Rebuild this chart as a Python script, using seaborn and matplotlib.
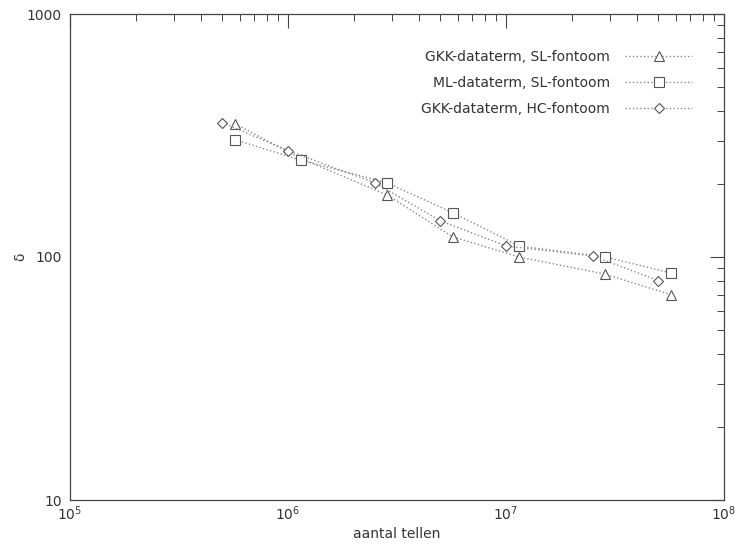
import matplotlib
matplotlib.use("Agg")
import matplotlib.pyplot as plt
import matplotlib.ticker as mticker
import seaborn as sns
import pandas as pd
import numpy as np

# ---- data ----
labels = ["GKK-dataterm, SL-fontoom", "ML-dataterm, SL-fontoom", "GKK-dataterm, HC-fontoom"]
x_sl = [5.7e5, 1.15e6, 2.85e6, 5.7e6, 1.15e7, 2.85e7, 5.7e7]
x_hc = [5.0e5, 1.0e6, 2.5e6, 5.0e6, 1.0e7, 2.5e7, 5.0e7]
y_gkk_sl = [354, 254, 180, 121, 100, 85, 70]
y_ml_sl = [304, 250, 202, 152, 111, 100, 86]
y_gkk_hc = [357, 274, 202, 141, 111, 101, 80]
markers = ["^", "s", "D"]

sns.set_style("white")
plt.rcParams['font.family'] = ['DejaVu Sans']

fig = plt.figure(figsize=(7.36, 5.44), dpi=100)
ax = fig.add_axes([70/736, 1-500/544, (724-70)/736, (500-14)/544])

series = [(x_sl, y_gkk_sl), (x_sl, y_ml_sl), (x_hc, y_gkk_hc)]
for (xs, ys), lab, mk in zip(series, labels, markers):
    df = pd.DataFrame({"x": xs, "y": ys})
    sns.lineplot(data=df, x="x", y="y", ax=ax, label=lab, color="#8a8a8a",
                 linestyle=":", linewidth=1.0, marker=mk,
                 markersize=7 if mk != "D" else 5.5,
                 markerfacecolor="white", markeredgecolor="#555555",
                 markeredgewidth=0.8)

ax.set_xscale("log")
ax.set_yscale("log")
ax.set_xlim(1e5, 1e8)
ax.set_ylim(10, 1000)
ax.yaxis.set_major_formatter(mticker.FuncFormatter(lambda v, p: f"{v:g}"))
ax.yaxis.set_minor_formatter(mticker.NullFormatter())
ax.xaxis.set_major_locator(mticker.LogLocator(base=10, numticks=10))
ax.xaxis.set_minor_locator(mticker.LogLocator(base=10, subs=np.arange(2, 10), numticks=10))
ax.yaxis.set_minor_locator(mticker.LogLocator(base=10, subs=np.arange(2, 10), numticks=10))

for s in ax.spines.values():
    s.set_color("#444444")
    s.set_linewidth(0.9)
ax.tick_params(which="both", direction="in", top=True, right=True, colors="#444444",
               labelcolor="#333333", labelsize=10)
ax.tick_params(which="major", length=10, width=0.8)
ax.tick_params(axis="x", which="major", pad=3)
ax.tick_params(axis="y", which="major", pad=6)
ax.tick_params(which="minor", length=5, width=0.7)

ax.set_xlabel("aantal tellen", fontsize=10, color="#333333")
ax.set_ylabel("δ", fontsize=10, color="#333333")
ax.xaxis.set_label_coords(0.5, (500 - 534) / 486, transform=ax.transAxes)
ax.yaxis.set_label_coords((20 - 70) / 654, 0.5, transform=ax.transAxes)
ax.xaxis.label.set_va("center")
ax.yaxis.label.set_va("center")

leg = ax.legend(loc="upper right", bbox_to_anchor=(692/736, 1-50/544),
                bbox_transform=fig.transFigure, frameon=False, markerfirst=False,
                fontsize=10, handlelength=4.8, handletextpad=1.1, labelspacing=0.85,
                borderpad=0, borderaxespad=0)
for t in leg.get_texts():
    t.set_color("#333333")

fig.savefig("out.png", dpi=100)
